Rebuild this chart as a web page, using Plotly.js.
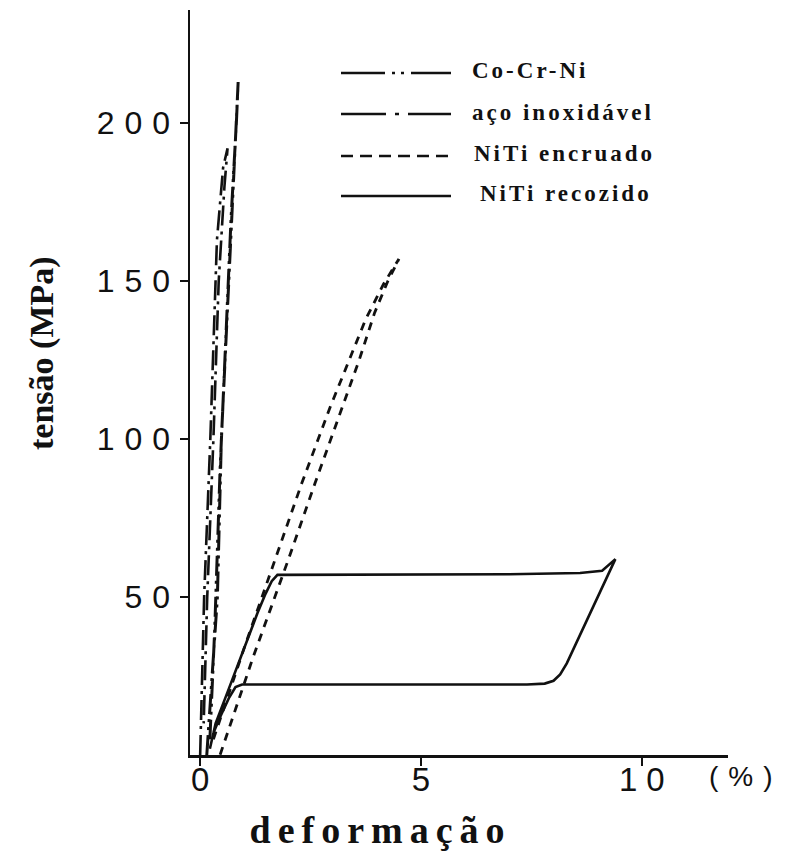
<!DOCTYPE html>
<html>
<head>
<meta charset="utf-8">
<script src="https://cdn.plot.ly/plotly-3.0.1.min.js"></script>
<style>
  html, body { margin: 0; padding: 0; background: #fff; }
  #chart { width: 792px; height: 852px; }
</style>
</head>
<body>
<div id="chart"></div>
<script>
// ---- data ----
var seriesNames = ["Co-Cr-Ni", "aço inoxidável", "NiTi encruado", "NiTi recozido"];

var cocrniX = [0.15, 0.39, 0.48, 0.60, 0.68, 0.75, 0.80, 0.86, 0.82, 0.70, 0.60, 0.45, 0.33, 0.22];
var cocrniY = [0, 50, 100, 135, 163, 180, 195, 213, 200, 170, 140, 90, 40, 5];

var steelX = [0.0, 0.09, 0.23, 0.38, 0.52, 0.62, 0.55, 0.42, 0.30, 0.16, 0.08];
var steelY = [0, 50, 100, 163, 186, 192, 180, 150, 100, 50, 10];

var encruadoX = [0.30, 1.00, 1.70, 2.30, 2.94, 3.35, 3.75, 4.15, 4.50, 4.25, 3.95, 3.60, 3.21, 2.60, 2.00, 1.20, 0.45];
var encruadoY = [5, 34, 62, 86, 110, 124, 138, 149, 157, 150, 140, 125, 110, 86, 62, 31, 0];

var recozidoX = [0.22, 0.35, 0.65, 1.00, 1.30, 1.48, 1.62, 1.75, 3.0, 5.0, 7.0, 8.6, 9.1, 9.4, 9.0, 8.6, 8.3, 8.15, 8.0, 7.8, 7.4, 5.0, 3.0, 1.2, 0.95, 0.80, 0.65, 0.45, 0.30];
var recozidoY = [2, 10, 21, 34, 45, 51, 55, 57, 57, 57, 57.2, 57.6, 58.3, 62, 50, 38, 29, 25.5, 23.5, 22.6, 22.3, 22.3, 22.3, 22.4, 22.3, 21.5, 18, 12, 7];

var xTickVals = [0, 5, 10];
var xTickText = ["0", "5", "10"];
var yTickVals = [50, 100, 150, 200];
var yTickText = ["50", "100", "150", "200"];

var xTitle = "deformação";
var yTitle = "tensão (MPa)";
var xUnit = "(%)";

// ---- styles ----
var ink = "#111";
var plotDashes = [
  "20px,5px,3px,5px,3px,5px",
  "20px,6px,3px,6px",
  "8px,7px",
  "solid"
];
var legendDashes = [
  "44px,7px,3px,6px,3px,7px",
  "45px,9px,4px,9px",
  "12px,7px",
  "solid"
];
var widths = [3, 2.6, 2.8, 2.6];
var xs = [cocrniX, steelX, encruadoX, recozidoX];
var ys = [cocrniY, steelY, encruadoY, recozidoY];

var traces = seriesNames.map(function (name, i) {
  return {
    type: "scatter", mode: "lines", name: name,
    x: xs[i], y: ys[i],
    line: { color: ink, width: widths[i], dash: plotDashes[i], shape: "linear" },
    showlegend: false, hoverinfo: "skip"
  };
});

// plot area in pixels: left 190, right 728, top 10, bottom 755
var L = 190, R = 728, T = 10, B = 755;
function px(x) { return (x - L) / (R - L); }
function py(y) { return (B - y) / (B - T); }

var legendLineY = [73, 114, 156, 196];
var legendTextY = [70, 113, 153, 193];
var legendTextX = [470, 470, 472, 478];
var shapes = [];
var annotations = [];
seriesNames.forEach(function (name, i) {
  shapes.push({
    type: "line", xref: "paper", yref: "paper",
    x0: px(341), x1: px(451), y0: py(legendLineY[i]), y1: py(legendLineY[i]),
    line: { color: ink, width: 2.6, dash: legendDashes[i] }
  });
  annotations.push({
    xref: "paper", yref: "paper", x: px(legendTextX[i]), y: py(legendTextY[i]),
    xanchor: "left", yanchor: "middle", showarrow: false,
    text: "<b>" + name + "</b>",
    font: { family: "Liberation Serif", size: 23, color: ink }
  });
});
annotations.push({
  xref: "paper", yref: "paper", x: px(42), y: py(353),
  xanchor: "center", yanchor: "middle", showarrow: false, textangle: -90,
  text: "<b>" + yTitle + "</b>",
  font: { family: "Liberation Serif", size: 34, color: ink }
});
annotations.push({
  xref: "paper", yref: "paper", x: px(377), y: py(830),
  xanchor: "center", yanchor: "middle", showarrow: false,
  text: "<b>" + xTitle + "</b>",
  font: { family: "Liberation Serif", size: 38, color: ink }
});
annotations.push({
  xref: "paper", yref: "paper", x: px(741), y: py(776),
  xanchor: "center", yanchor: "middle", showarrow: false,
  text: xUnit,
  font: { family: "Liberation Sans", size: 28, color: ink }
});

var layout = {
  width: 792, height: 852,
  margin: { l: L, r: 792 - R, t: T, b: 852 - B, pad: 0 },
  paper_bgcolor: "#fff", plot_bgcolor: "#fff",
  showlegend: false,
  xaxis: {
    range: [-0.23, 11.95], showgrid: false, zeroline: false,
    showline: true, linecolor: ink, linewidth: 2.5,
    ticks: "outside", ticklen: 8, tickwidth: 2, tickcolor: ink,
    tickvals: xTickVals, ticktext: xTickText, ticklabelstandoff: -14,
    tickfont: { family: "Liberation Sans", size: 33, color: ink }
  },
  yaxis: {
    range: [0, 235.8], showgrid: false, zeroline: false,
    showline: true, linecolor: ink, linewidth: 2.5,
    ticks: "outside", ticklen: 8, tickwidth: 2, tickcolor: ink,
    tickvals: yTickVals, ticktext: yTickText,
    tickfont: { family: "Liberation Sans", size: 32, color: ink }
  },
  shapes: shapes,
  annotations: annotations
};

function shiftText(t, dx) {
  var old = t.getAttribute("transform") || "";
  t.setAttribute("transform", "translate(" + dx + ",0) " + old);
}

Plotly.newPlot("chart", traces, layout, { staticPlot: true, displayModeBar: false }).then(function (gd) {
  gd.querySelectorAll(".ytick text").forEach(function (t) {
    t.style.letterSpacing = "10px"; shiftText(t, 7);
  });
  gd.querySelectorAll(".xtick text").forEach(function (t) {
    t.style.letterSpacing = "9px"; shiftText(t, 4.5);
  });
  var anns = gd.querySelectorAll(".annotation-text");
  var spacing = [3, 3, 3, 3, 0, 7, 10];
  anns.forEach(function (t, i) {
    var s = spacing[i];
    if (!s) return;
    var before = t.getBBox();
    t.style.letterSpacing = s + "px";
    var after = t.getBBox();
    if (i < 4) {
      shiftText(t, before.x - after.x);
    } else {
      shiftText(t, s / 2);
    }
  });
});
</script>
</body>
</html>
